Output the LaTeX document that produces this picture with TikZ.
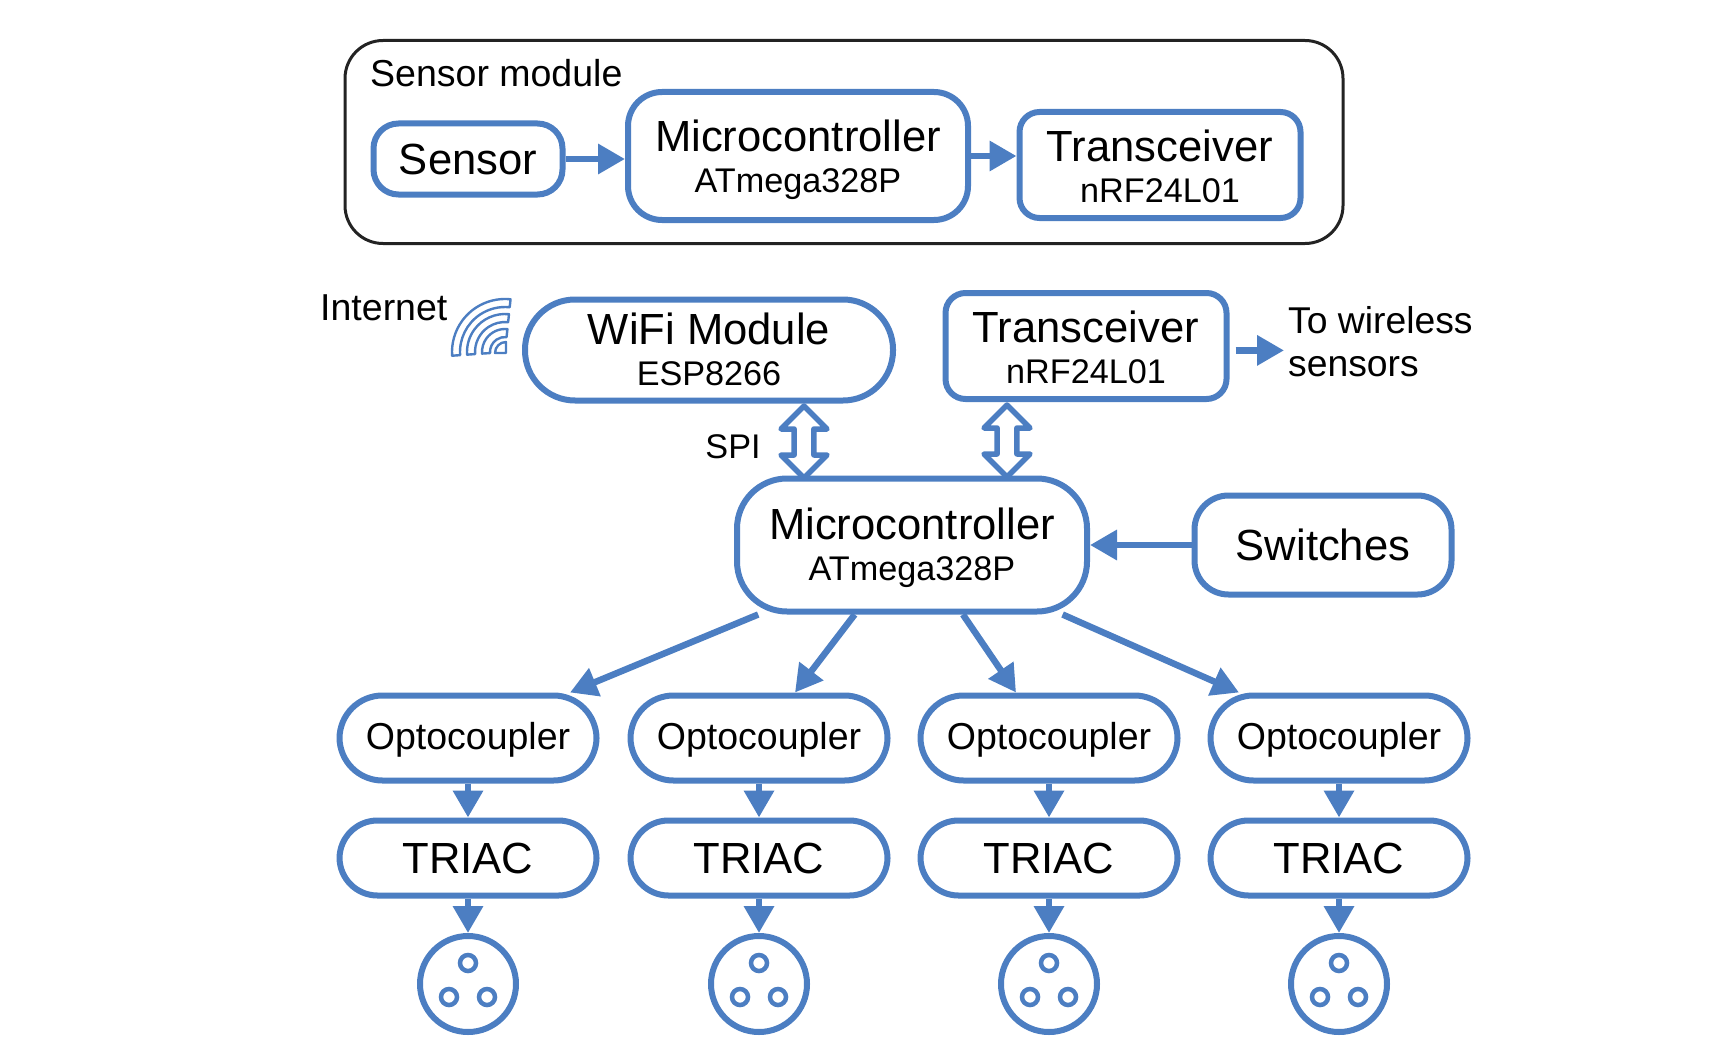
\documentclass[tikz,border=0pt]{standalone}
\usepackage{fontspec}
\setmainfont{Liberation Sans}
\usetikzlibrary{arrows.meta, calc, shapes.arrows}
\definecolor{accent}{RGB}{76,126,194}
\definecolor{frame}{RGB}{35,35,35}
\newcommand{\bigfont}{\fontsize{43.6}{41}\selectfont}
\newcommand{\midfont}{\fontsize{37.5}{42}\selectfont}
\newcommand{\subfont}{\fontsize{34.2}{41}\selectfont}
\newcommand{\twoline}[3][0pt]{\raisebox{#1}[\height][\depth]{\bigfont #2}\\[15.5pt]\raisebox{#1}[\height][\depth]{\subfont #3}}
\tikzset{
  blockbox/.style={draw=accent, line width=6pt, rounded corners=#1, fill=white,
                   align=center, inner sep=0pt},
  flow/.style={draw=accent, line width=6.5pt,
               -{Triangle[length=27pt, width=29pt, fill=accent]}},
  duplex/.style={double arrow, draw=accent, fill=white, line width=5.5pt, line join=round,
                 rotate=90, inner sep=7pt, minimum height=72pt, minimum width=46pt,
                 double arrow head extend=13pt},
  socketring/.style={circle, draw=accent, line width=4.5pt, fill=white, inner sep=0pt}
}

\begin{document}
\begin{tikzpicture}[x=1pt, y=-1pt]
  \useasboundingbox (0,0) rectangle (1715,1046);
  % sensor module
  \node[draw=frame, line width=3pt, rounded corners=38pt, minimum width=998pt,
        minimum height=203pt, inner sep=0pt] (module) at (844,142) {};
  \node[anchor=west, font=\midfont, inner sep=0pt] (modulelabel) at (370,73) {Sensor module};
  \node[blockbox=25pt, minimum width=189pt, minimum height=71pt, font=\bigfont]
    (sensor) at (468,159) {Sensor};
  \node[blockbox=34pt, minimum width=340pt, minimum height=128pt]
    (mcusensor) at (798,156) {\twoline[-4pt]{Microcontroller}{ATmega328P}};
  \node[blockbox=20pt, minimum width=281pt, minimum height=106pt]
    (radiosensor) at (1160,165) {\twoline[-1.5pt]{Transceiver}{nRF24L01}};
  \draw[flow] (sensor.east) -- (sensor.east -| mcusensor.west);
  \draw[flow] (mcusensor.east) -- (mcusensor.east -| radiosensor.west);

  % hub
  \node[font=\midfont, anchor=west, inner sep=0pt] (internet) at (320,308) {Internet};
  \node[blockbox=50pt, minimum width=368pt, minimum height=101pt]
    (wifi) at (709,350) {\twoline[1pt]{WiFi Module}{ESP8266}};
  \node[blockbox=20pt, minimum width=281pt, minimum height=106pt]
    (radio) at (1086,346) {\twoline[-1pt]{Transceiver}{nRF24L01}};
  \node[blockbox=50pt, minimum width=350pt, minimum height=133pt]
    (mcu) at (912,545) {\twoline[-3pt]{Microcontroller}{ATmega328P}};
  \node[blockbox=34pt, minimum width=257pt, minimum height=99pt, font=\bigfont]
    (switches) at (1323,545) {Switches};
  \node[font=\fontsize{37.3}{43}\selectfont, anchor=west, align=left, inner sep=0pt]
    (wireless) at (1288,342) {To wireless\\sensors};
  \node[font=\subfont, inner sep=0pt] (spi) at (733,447) {SPI};
  \node[duplex] (spilink) at (804,442) {};
  \node[duplex] (radiolink) at (1007,441) {};
  \draw[flow, shorten <=6pt, shorten >=4pt] ([yshift=-4.4pt]radio.east) -- ([yshift=-4.4pt]radio.east -| wireless.west);
  \draw[flow] (switches.west) -- (mcu.east);

  % wifi icon
  \begin{scope}[shift={(505,352)}, y=1pt, draw=accent, line width=2.4pt, line join=round]
    \foreach \rout/\rin in {53/45, 38/30, 23/15} {
      \draw (84:\rout) arc[start angle=84, end angle=184, radius=\rout]
         -- (184:\rin) arc[start angle=184, end angle=84, radius=\rin] -- cycle;
    }
    \draw (1,-1) -- (1,10) arc[start angle=90, end angle=180, radius=11] -- cycle;
  \end{scope}

  % four outputs
  \foreach \n/\x/\mfrac/\tipx in {1/468/0.068/102, 2/759/0.339/36, 3/1049/0.643/-33, 4/1339/0.923/-100} {
    \node[blockbox=43pt, minimum width=257pt, minimum height=85pt, font=\midfont, text depth=4pt]
      (opto\n) at (\x,738) {Optocoupler};
    \node[blockbox=38pt, minimum width=257pt, minimum height=75pt, font=\bigfont]
      (triac\n) at (\x,858) {TRIAC};
    \node[circle, draw=accent, line width=6pt, fill=white, minimum size=96pt, inner sep=0pt]
      (socket\n) at (\x,984) {};
    \node[socketring, minimum size=16pt] (pina\n) at ($(socket\n)+(0,-21)$) {};
    \node[socketring, minimum size=16pt] (pinb\n) at ($(socket\n)+(-19,13)$) {};
    \node[socketring, minimum size=16pt] (pinc\n) at ($(socket\n)+(19,13)$) {};
    \draw[flow] (opto\n.south) -- (triac\n.north);
    \draw[flow] (triac\n.south) -- (socket\n.north);
    \draw[flow] ($(mcu.south west)!\mfrac!(mcu.south east)$) -- ($(opto\n.north)+(\tipx,0)$);
  }
\end{tikzpicture}
\end{document}
